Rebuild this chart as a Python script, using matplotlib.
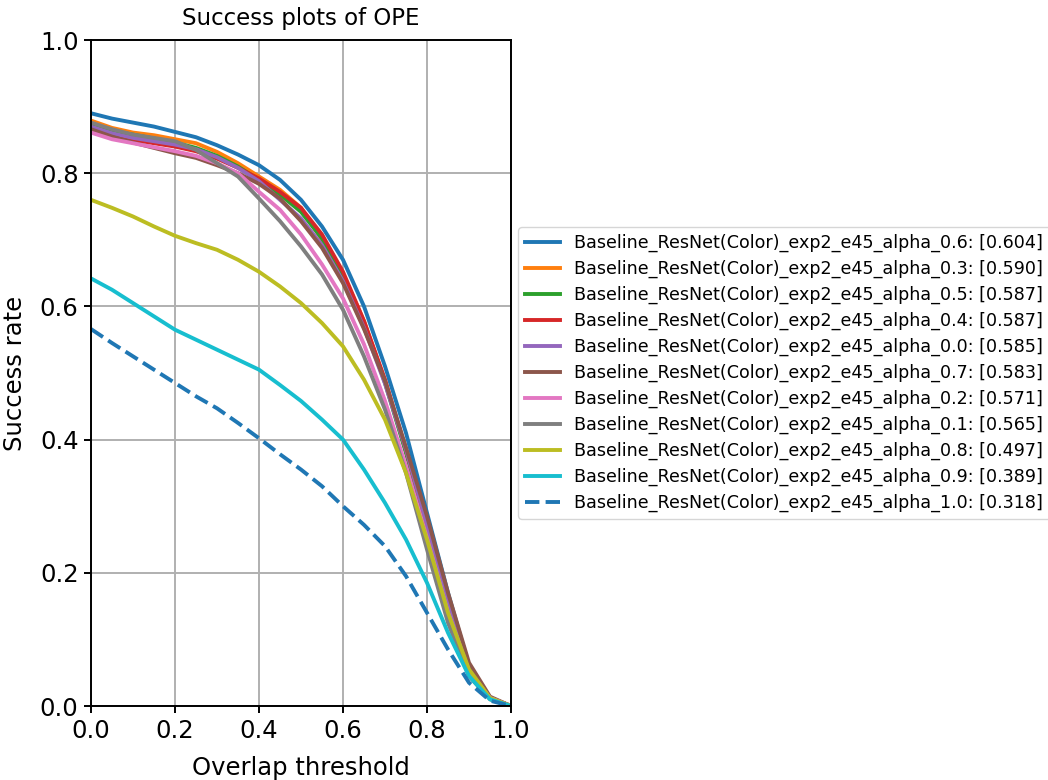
import numpy as np
import matplotlib
matplotlib.use("Agg")
import matplotlib.pyplot as plt

# Overlap thresholds used for the OPE success curves
thresholds = np.linspace(0.0, 1.0, 21)

prefix = "Baseline_ResNet(Color)_exp2_e45_alpha_"
alphas = ["0.6", "0.3", "0.5", "0.4", "0.0", "0.7", "0.2", "0.1", "0.8", "0.9", "1.0"]
auc_scores = [0.604, 0.590, 0.587, 0.587, 0.585, 0.583, 0.571, 0.565, 0.497, 0.389, 0.318]

success_a06 = [0.890, 0.882, 0.876, 0.870, 0.862, 0.854, 0.842, 0.828, 0.812, 0.790, 0.760,
               0.720, 0.670, 0.600, 0.510, 0.410, 0.290, 0.170, 0.060, 0.012, 0.000]
success_a03 = [0.879, 0.868, 0.861, 0.857, 0.851, 0.845, 0.832, 0.815, 0.795, 0.775, 0.748,
               0.700, 0.648, 0.578, 0.488, 0.382, 0.268, 0.150, 0.055, 0.012, 0.000]
success_a05 = [0.872, 0.863, 0.858, 0.852, 0.846, 0.838, 0.826, 0.810, 0.790, 0.768, 0.742,
               0.702, 0.648, 0.575, 0.485, 0.380, 0.268, 0.150, 0.055, 0.012, 0.000]
success_a04 = [0.864, 0.855, 0.850, 0.845, 0.840, 0.833, 0.822, 0.808, 0.792, 0.772, 0.748,
               0.708, 0.652, 0.578, 0.490, 0.385, 0.270, 0.148, 0.055, 0.012, 0.000]
success_a00 = [0.870, 0.860, 0.853, 0.848, 0.843, 0.836, 0.824, 0.808, 0.788, 0.760, 0.732,
               0.692, 0.638, 0.568, 0.484, 0.385, 0.272, 0.155, 0.058, 0.012, 0.000]
success_a07 = [0.866, 0.855, 0.846, 0.838, 0.830, 0.823, 0.812, 0.800, 0.784, 0.762, 0.728,
               0.688, 0.635, 0.566, 0.488, 0.388, 0.285, 0.170, 0.065, 0.014, 0.000]
success_a02 = [0.861, 0.851, 0.845, 0.839, 0.833, 0.826, 0.815, 0.800, 0.772, 0.745, 0.708,
               0.663, 0.612, 0.543, 0.458, 0.360, 0.252, 0.140, 0.052, 0.012, 0.000]
success_a01 = [0.876, 0.866, 0.858, 0.853, 0.848, 0.835, 0.815, 0.795, 0.762, 0.728, 0.690,
               0.648, 0.595, 0.525, 0.445, 0.350, 0.235, 0.125, 0.045, 0.010, 0.000]
success_a08 = [0.760, 0.748, 0.735, 0.720, 0.706, 0.695, 0.685, 0.670, 0.652, 0.630, 0.605,
               0.575, 0.540, 0.490, 0.430, 0.350, 0.250, 0.140, 0.055, 0.012, 0.000]
success_a09 = [0.642, 0.625, 0.605, 0.585, 0.565, 0.550, 0.535, 0.520, 0.505, 0.482, 0.458,
               0.430, 0.400, 0.355, 0.305, 0.250, 0.185, 0.110, 0.045, 0.010, 0.000]
success_a10 = [0.566, 0.545, 0.525, 0.505, 0.485, 0.465, 0.447, 0.425, 0.402, 0.378, 0.355,
               0.330, 0.300, 0.272, 0.240, 0.195, 0.140, 0.085, 0.035, 0.008, 0.000]

curves = [success_a06, success_a03, success_a05, success_a04, success_a00, success_a07,
          success_a02, success_a01, success_a08, success_a09, success_a10]
colors = ["#1f77b4", "#ff7f0e", "#2ca02c", "#d62728", "#9467bd", "#8c564b",
          "#e377c2", "#7f7f7f", "#bcbd22", "#17becf", "#1f77b4"]
styles = ["-"] * 10 + ["--"]

fig = plt.figure(figsize=(10.48, 7.8), dpi=100)
ax = fig.add_axes([91 / 1048, 74 / 780, 420 / 1048, 666 / 780])

for alpha, auc, ys, c, ls in zip(alphas, auc_scores, curves, colors, styles):
    ax.plot(thresholds, ys, color=c, linestyle=ls, linewidth=2.8,
            label=f"{prefix}{alpha}: [{auc:.3f}]")

ax.set_xlim(0, 1)
ax.set_ylim(0, 1)
ax.set_xticks(np.arange(0, 1.01, 0.2))
ax.set_yticks(np.arange(0, 1.01, 0.2))
ax.grid(True, color="#b0b0b0", linewidth=1.4)
ax.set_axisbelow(True)
for sp in ax.spines.values():
    sp.set_linewidth(1.4)
ax.tick_params(labelsize=17.5, length=5, width=1.4, pad=4)
ax.set_title("Success plots of OPE", fontsize=16.5, pad=11)
ax.set_xlabel("Overlap threshold", fontsize=17.5, labelpad=10)
ax.set_ylabel("Success rate", fontsize=17.5, labelpad=9)

ax.legend(loc="center left", bbox_to_anchor=(1.017, 0.5), fontsize=12.6,
          labelspacing=0.44, handlelength=2.0, borderaxespad=0.0)

fig.savefig("out.png", dpi=100)
